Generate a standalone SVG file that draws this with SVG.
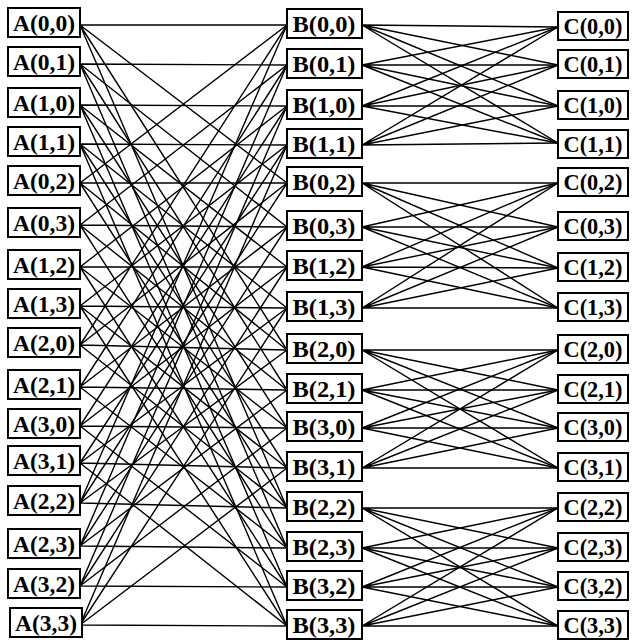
<svg xmlns="http://www.w3.org/2000/svg" width="634" height="643" viewBox="0 0 634 643">
<style>
.bx{fill:#fff;stroke:#000;stroke-width:2}
.t{font-family:"Liberation Serif",serif;font-size:24px;font-weight:bold;fill:#000;text-anchor:middle}
.c{fill:none;stroke:#000;stroke-width:1.4}
</style>
<rect width="634" height="643" fill="#fff"/>
<g id="connectors" class="c">
<path d="M80 25L287 25M80 25L287 183M80 25L287 350M80 25L287 508"/>
<path d="M80 183L287 25M80 183L287 183M80 183L287 350M80 183L287 508"/>
<path d="M80 345L287 25M80 345L287 183M80 345L287 350M80 345L287 508"/>
<path d="M80 503L287 25M80 503L287 183M80 503L287 350M80 503L287 508"/>
<path d="M80 64L287 65M80 64L287 227M80 64L287 390M80 64L287 548"/>
<path d="M80 225L287 65M80 225L287 227M80 225L287 390M80 225L287 548"/>
<path d="M80 387L287 65M80 387L287 227M80 387L287 390M80 387L287 548"/>
<path d="M80 546L287 65M80 546L287 227M80 546L287 390M80 546L287 548"/>
<path d="M80 105L287 106M80 105L287 267M80 105L287 428M80 105L287 587"/>
<path d="M80 267L287 106M80 267L287 267M80 267L287 428M80 267L287 587"/>
<path d="M80 426L287 106M80 426L287 267M80 426L287 428M80 426L287 587"/>
<path d="M80 586L287 106M80 586L287 267M80 586L287 428M80 586L287 587"/>
<path d="M80 144L287 145M80 144L287 308M80 144L287 468M80 144L287 626"/>
<path d="M80 306L287 145M80 306L287 308M80 306L287 468M80 306L287 626"/>
<path d="M80 463L287 145M80 463L287 308M80 463L287 468M80 463L287 626"/>
<path d="M80 625L287 145M80 625L287 308M80 625L287 468M80 625L287 626"/>
<path d="M362 25L558 27M362 25L558 65M362 25L558 106M362 25L558 143"/>
<path d="M362 65L558 27M362 65L558 65M362 65L558 106M362 65L558 143"/>
<path d="M362 106L558 27M362 106L558 65M362 106L558 106M362 106L558 143"/>
<path d="M362 145L558 27M362 145L558 65M362 145L558 106M362 145L558 143"/>
<path d="M362 183L558 183M362 183L558 227M362 183L558 268M362 183L558 308"/>
<path d="M362 227L558 183M362 227L558 227M362 227L558 268M362 227L558 308"/>
<path d="M362 267L558 183M362 267L558 227M362 267L558 268M362 267L558 308"/>
<path d="M362 308L558 183M362 308L558 227M362 308L558 268M362 308L558 308"/>
<path d="M362 350L558 350M362 350L558 390M362 350L558 428M362 350L558 468"/>
<path d="M362 390L558 350M362 390L558 390M362 390L558 428M362 390L558 468"/>
<path d="M362 428L558 350M362 428L558 390M362 428L558 428M362 428L558 468"/>
<path d="M362 468L558 350M362 468L558 390M362 468L558 428M362 468L558 468"/>
<path d="M362 508L558 508M362 508L558 548M362 508L558 587M362 508L558 626"/>
<path d="M362 548L558 508M362 548L558 548M362 548L558 587M362 548L558 626"/>
<path d="M362 587L558 508M362 587L558 548M362 587L558 587M362 587L558 626"/>
<path d="M362 626L558 508M362 626L558 548M362 626L558 587M362 626L558 626"/>
</g>
<g id="A00"><rect class="bx" x="8" y="8" width="72" height="29"/><text class="t" x="44" y="31" textLength="62" lengthAdjust="spacingAndGlyphs">A(0,0)</text></g>
<g id="A01"><rect class="bx" x="8" y="47" width="72" height="29"/><text class="t" x="44" y="70" textLength="62" lengthAdjust="spacingAndGlyphs">A(0,1)</text></g>
<g id="A10"><rect class="bx" x="8" y="88" width="72" height="29"/><text class="t" x="44" y="111" textLength="62" lengthAdjust="spacingAndGlyphs">A(1,0)</text></g>
<g id="A11"><rect class="bx" x="8" y="127" width="72" height="29"/><text class="t" x="44" y="150" textLength="62" lengthAdjust="spacingAndGlyphs">A(1,1)</text></g>
<g id="A02"><rect class="bx" x="8" y="166" width="72" height="29"/><text class="t" x="44" y="189" textLength="62" lengthAdjust="spacingAndGlyphs">A(0,2)</text></g>
<g id="A03"><rect class="bx" x="8" y="208" width="72" height="29"/><text class="t" x="44" y="231" textLength="62" lengthAdjust="spacingAndGlyphs">A(0,3)</text></g>
<g id="A12"><rect class="bx" x="8" y="250" width="72" height="29"/><text class="t" x="44" y="273" textLength="62" lengthAdjust="spacingAndGlyphs">A(1,2)</text></g>
<g id="A13"><rect class="bx" x="8" y="289" width="72" height="29"/><text class="t" x="44" y="312" textLength="62" lengthAdjust="spacingAndGlyphs">A(1,3)</text></g>
<g id="A20"><rect class="bx" x="8" y="328" width="72" height="29"/><text class="t" x="44" y="351" textLength="62" lengthAdjust="spacingAndGlyphs">A(2,0)</text></g>
<g id="A21"><rect class="bx" x="8" y="370" width="72" height="29"/><text class="t" x="44" y="393" textLength="62" lengthAdjust="spacingAndGlyphs">A(2,1)</text></g>
<g id="A30"><rect class="bx" x="8" y="409" width="72" height="29"/><text class="t" x="44" y="432" textLength="62" lengthAdjust="spacingAndGlyphs">A(3,0)</text></g>
<g id="A31"><rect class="bx" x="8" y="446" width="72" height="29"/><text class="t" x="44" y="469" textLength="62" lengthAdjust="spacingAndGlyphs">A(3,1)</text></g>
<g id="A22"><rect class="bx" x="8" y="486" width="72" height="29"/><text class="t" x="44" y="509" textLength="62" lengthAdjust="spacingAndGlyphs">A(2,2)</text></g>
<g id="A23"><rect class="bx" x="8" y="529" width="72" height="29"/><text class="t" x="44" y="552" textLength="62" lengthAdjust="spacingAndGlyphs">A(2,3)</text></g>
<g id="A32"><rect class="bx" x="8" y="569" width="72" height="29"/><text class="t" x="44" y="592" textLength="62" lengthAdjust="spacingAndGlyphs">A(3,2)</text></g>
<g id="A33"><rect class="bx" x="10" y="608" width="72" height="29"/><text class="t" x="46" y="631" textLength="62" lengthAdjust="spacingAndGlyphs">A(3,3)</text></g>
<g id="B00"><rect class="bx" x="287" y="9" width="75" height="29"/><text class="t" x="324" y="32" textLength="63" lengthAdjust="spacingAndGlyphs">B(0,0)</text></g>
<g id="B01"><rect class="bx" x="287" y="49" width="75" height="29"/><text class="t" x="324" y="72" textLength="63" lengthAdjust="spacingAndGlyphs">B(0,1)</text></g>
<g id="B10"><rect class="bx" x="287" y="90" width="75" height="29"/><text class="t" x="324" y="113" textLength="63" lengthAdjust="spacingAndGlyphs">B(1,0)</text></g>
<g id="B11"><rect class="bx" x="287" y="129" width="75" height="29"/><text class="t" x="324" y="152" textLength="63" lengthAdjust="spacingAndGlyphs">B(1,1)</text></g>
<g id="B02"><rect class="bx" x="287" y="167" width="75" height="29"/><text class="t" x="324" y="190" textLength="63" lengthAdjust="spacingAndGlyphs">B(0,2)</text></g>
<g id="B03"><rect class="bx" x="287" y="211" width="75" height="29"/><text class="t" x="324" y="234" textLength="63" lengthAdjust="spacingAndGlyphs">B(0,3)</text></g>
<g id="B12"><rect class="bx" x="287" y="251" width="75" height="29"/><text class="t" x="324" y="274" textLength="63" lengthAdjust="spacingAndGlyphs">B(1,2)</text></g>
<g id="B13"><rect class="bx" x="287" y="292" width="75" height="29"/><text class="t" x="324" y="315" textLength="63" lengthAdjust="spacingAndGlyphs">B(1,3)</text></g>
<g id="B20"><rect class="bx" x="287" y="334" width="75" height="29"/><text class="t" x="324" y="357" textLength="63" lengthAdjust="spacingAndGlyphs">B(2,0)</text></g>
<g id="B21"><rect class="bx" x="287" y="374" width="75" height="29"/><text class="t" x="324" y="397" textLength="63" lengthAdjust="spacingAndGlyphs">B(2,1)</text></g>
<g id="B30"><rect class="bx" x="287" y="412" width="75" height="29"/><text class="t" x="324" y="435" textLength="63" lengthAdjust="spacingAndGlyphs">B(3,0)</text></g>
<g id="B31"><rect class="bx" x="287" y="452" width="75" height="29"/><text class="t" x="324" y="475" textLength="63" lengthAdjust="spacingAndGlyphs">B(3,1)</text></g>
<g id="B22"><rect class="bx" x="287" y="492" width="75" height="29"/><text class="t" x="324" y="515" textLength="63" lengthAdjust="spacingAndGlyphs">B(2,2)</text></g>
<g id="B23"><rect class="bx" x="287" y="532" width="75" height="29"/><text class="t" x="324" y="555" textLength="63" lengthAdjust="spacingAndGlyphs">B(2,3)</text></g>
<g id="B32"><rect class="bx" x="287" y="571" width="75" height="29"/><text class="t" x="324" y="594" textLength="63" lengthAdjust="spacingAndGlyphs">B(3,2)</text></g>
<g id="B33"><rect class="bx" x="287" y="610" width="75" height="29"/><text class="t" x="324" y="633" textLength="63" lengthAdjust="spacingAndGlyphs">B(3,3)</text></g>
<g id="C00"><rect class="bx" x="558" y="12" width="70" height="28"/><text class="t" x="593" y="34" textLength="59" lengthAdjust="spacingAndGlyphs">C(0,0)</text></g>
<g id="C01"><rect class="bx" x="558" y="50" width="70" height="28"/><text class="t" x="593" y="72" textLength="59" lengthAdjust="spacingAndGlyphs">C(0,1)</text></g>
<g id="C10"><rect class="bx" x="558" y="91" width="70" height="28"/><text class="t" x="593" y="113" textLength="59" lengthAdjust="spacingAndGlyphs">C(1,0)</text></g>
<g id="C11"><rect class="bx" x="558" y="130" width="70" height="28"/><text class="t" x="593" y="152" textLength="59" lengthAdjust="spacingAndGlyphs">C(1,1)</text></g>
<g id="C02"><rect class="bx" x="558" y="168" width="70" height="28"/><text class="t" x="593" y="190" textLength="59" lengthAdjust="spacingAndGlyphs">C(0,2)</text></g>
<g id="C03"><rect class="bx" x="558" y="212" width="70" height="28"/><text class="t" x="593" y="234" textLength="59" lengthAdjust="spacingAndGlyphs">C(0,3)</text></g>
<g id="C12"><rect class="bx" x="558" y="253" width="70" height="28"/><text class="t" x="593" y="275" textLength="59" lengthAdjust="spacingAndGlyphs">C(1,2)</text></g>
<g id="C13"><rect class="bx" x="558" y="293" width="70" height="28"/><text class="t" x="593" y="315" textLength="59" lengthAdjust="spacingAndGlyphs">C(1,3)</text></g>
<g id="C20"><rect class="bx" x="558" y="335" width="70" height="28"/><text class="t" x="593" y="357" textLength="59" lengthAdjust="spacingAndGlyphs">C(2,0)</text></g>
<g id="C21"><rect class="bx" x="558" y="375" width="70" height="28"/><text class="t" x="593" y="397" textLength="59" lengthAdjust="spacingAndGlyphs">C(2,1)</text></g>
<g id="C30"><rect class="bx" x="558" y="413" width="70" height="28"/><text class="t" x="593" y="435" textLength="59" lengthAdjust="spacingAndGlyphs">C(3,0)</text></g>
<g id="C31"><rect class="bx" x="558" y="453" width="70" height="28"/><text class="t" x="593" y="475" textLength="59" lengthAdjust="spacingAndGlyphs">C(3,1)</text></g>
<g id="C22"><rect class="bx" x="558" y="493" width="70" height="28"/><text class="t" x="593" y="515" textLength="59" lengthAdjust="spacingAndGlyphs">C(2,2)</text></g>
<g id="C23"><rect class="bx" x="558" y="533" width="70" height="28"/><text class="t" x="593" y="555" textLength="59" lengthAdjust="spacingAndGlyphs">C(2,3)</text></g>
<g id="C32"><rect class="bx" x="558" y="572" width="70" height="28"/><text class="t" x="593" y="594" textLength="59" lengthAdjust="spacingAndGlyphs">C(3,2)</text></g>
<g id="C33"><rect class="bx" x="558" y="611" width="70" height="28"/><text class="t" x="593" y="633" textLength="59" lengthAdjust="spacingAndGlyphs">C(3,3)</text></g>
</svg>
